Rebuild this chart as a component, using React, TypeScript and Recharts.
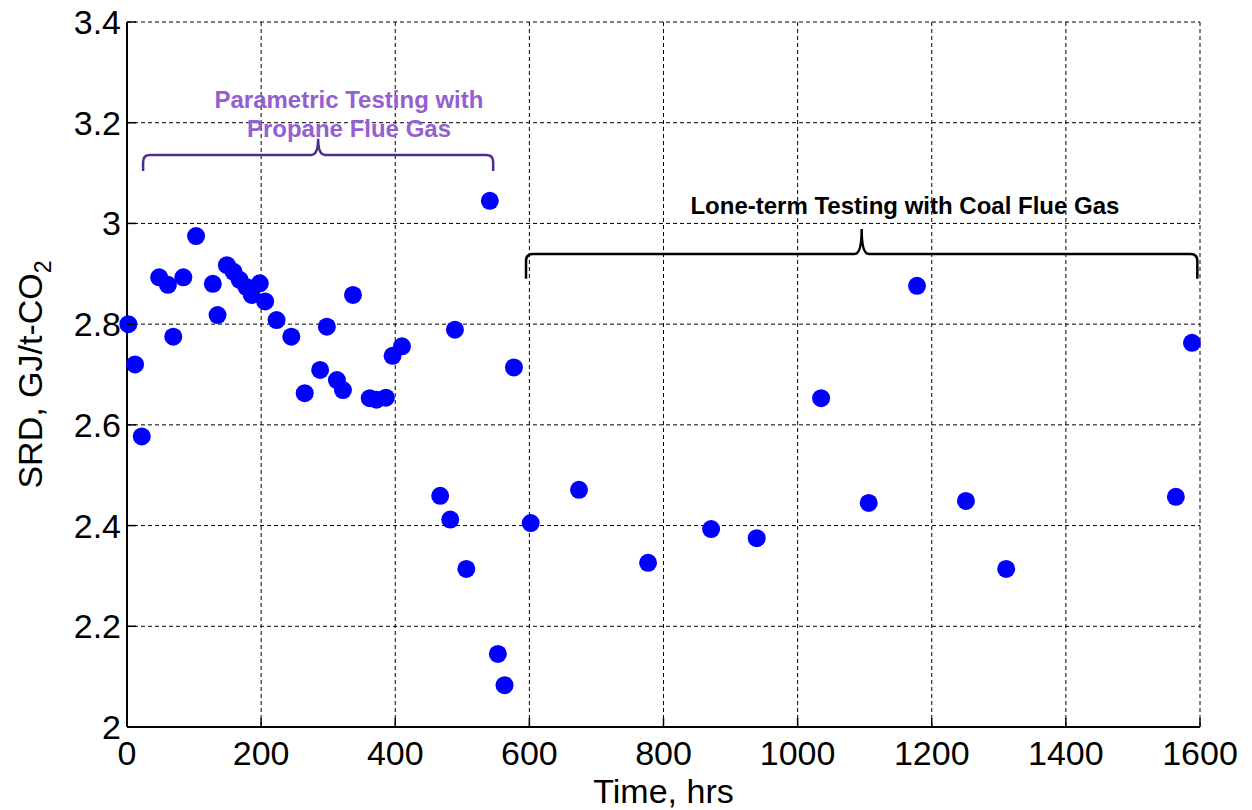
import React from 'react';
import {
  ScatterChart,
  Scatter,
  XAxis,
  YAxis,
  CartesianGrid,
  ReferenceArea,
  ReferenceDot,
} from 'recharts';

// measured points, time (hrs) vs SRD (GJ/t-CO2)
const timeHrs = [
  2, 12, 22, 48, 61, 69, 84, 103, 128, 135, 149, 159, 168, 178, 186, 198, 206, 223, 245, 265,
  288, 298, 313, 322, 337, 362, 372, 386, 396, 410, 467, 482, 489, 506, 541, 553, 563, 577, 602, 674,
  777, 871, 939, 1035, 1106, 1178, 1251, 1311, 1564, 1588,
];
const srdValues = [
  2.8, 2.72, 2.577, 2.893, 2.878, 2.775, 2.893, 2.975, 2.88, 2.818, 2.917, 2.904, 2.888, 2.874, 2.858, 2.881, 2.845, 2.808, 2.775, 2.663,
  2.709, 2.795, 2.689, 2.669, 2.858, 2.653, 2.65, 2.654, 2.737, 2.756, 2.459, 2.412, 2.789, 2.314, 3.045, 2.145, 2.083, 2.714, 2.405, 2.471,
  2.326, 2.393, 2.375, 2.653, 2.445, 2.876, 2.449, 2.314, 2.457, 2.763,
];

const xTicks = [0, 200, 400, 600, 800, 1000, 1200, 1400, 1600];
const yTicks = [2, 2.2, 2.4, 2.6, 2.8, 3, 3.2, 3.4];

// annotation anchors in data units
const propaneBrace = { x1: 24, x2: 546, yLow: 3.104, yHigh: 3.168 };
const coalBrace = { x1: 595, x2: 1596, yLow: 2.89, yHigh: 2.989 };
const propaneLabel = { x: 331, lines: ['Parametric Testing with', 'Propane Flue Gas'], y: [3.23, 3.172] };
const coalLabel = { x: 1160, text: 'Lone-term Testing with Coal Flue Gas', y: 3.019 };

const data = timeHrs.map((t, i) => ({ time: t, srd: srdValues[i] }));

const FONT = '"Liberation Sans", Arial, sans-serif';
const TICK_LEN = 9;

const fmt = (v: number) => String(Math.round(v * 10) / 10);

const BottomTick = (props: any) => {
  const { x, y, payload } = props;
  return (
    <g>
      <line x1={x} x2={x} y1={y} y2={y - TICK_LEN} stroke="#000" strokeWidth={1.5} />
      <text x={x} y={y + 38} textAnchor="middle" fontSize={34} fontFamily={FONT} fill="#000">
        {payload.value}
      </text>
    </g>
  );
};

const TopTick = (props: any) => {
  const { x, y } = props;
  return <line x1={x} x2={x} y1={y} y2={y + TICK_LEN} stroke="#000" strokeWidth={1.5} />;
};

const LeftTick = (props: any) => {
  const { x, y, payload } = props;
  return (
    <g>
      <line x1={x} x2={x + TICK_LEN} y1={y} y2={y} stroke="#000" strokeWidth={1.5} />
      <text x={x - 6} y={y + 12} textAnchor="end" fontSize={34} fontFamily={FONT} fill="#000">
        {fmt(payload.value)}
      </text>
    </g>
  );
};

const RightTick = (props: any) => {
  const { x, y } = props;
  return <line x1={x} x2={x - TICK_LEN} y1={y} y2={y} stroke="#000" strokeWidth={1.5} />;
};

const Brace = (color: string) => (props: any) => {
  const { x, y, width, height } = props;
  const midY = y + height / 2;
  const cx = x + width / 2;
  const r = 7;
  const d = [
    `M${x},${y + height}`,
    `L${x},${midY + r}`,
    `Q${x},${midY} ${x + r},${midY}`,
    `L${cx - r},${midY}`,
    `Q${cx},${midY} ${cx},${y}`,
    `Q${cx},${midY} ${cx + r},${midY}`,
    `L${x + width - r},${midY}`,
    `Q${x + width},${midY} ${x + width},${midY + r}`,
    `L${x + width},${y + height}`,
  ].join(' ');
  return <path d={d} fill="none" stroke={color} strokeWidth={2.5} />;
};

const labelText = (text: string, color: string) => (props: any) => (
  <text
    x={props.cx}
    y={props.cy}
    textAnchor="middle"
    fontSize={24}
    fontWeight="bold"
    fontFamily={FONT}
    fill={color}
  >
    {text}
  </text>
);

const YLabel = (props: any) => {
  const vb = props.viewBox;
  const cx = vb.x + 42;
  const cy = vb.y + vb.height / 2;
  return (
    <text
      x={cx}
      y={cy}
      transform={`rotate(-90, ${cx}, ${cy})`}
      textAnchor="middle"
      fontSize={34}
      fontFamily={FONT}
      fill="#000"
    >
      SRD, GJ/t-CO<tspan dy={9} fontSize={23}>2</tspan>
    </text>
  );
};

const XLabel = (props: any) => {
  const vb = props.viewBox;
  return (
    <text
      x={vb.x + vb.width / 2}
      y={vb.y + 76}
      textAnchor="middle"
      fontSize={34}
      fontFamily={FONT}
      fill="#000"
    >
      Time, hrs
    </text>
  );
};

export default function App() {
  return (
    <div style={{ position: 'absolute', left: 0, top: 0, width: 1252, height: 810, background: '#fff' }}>
      <ScatterChart width={1252} height={810} margin={{ top: 22, right: 52, bottom: 0, left: 0 }}>
        <CartesianGrid stroke="#000" strokeDasharray="4 3" strokeWidth={1} />
        <XAxis
          type="number"
          dataKey="time"
          domain={[0, 1600]}
          ticks={xTicks}
          height={83}
          tickSize={0}
          tickMargin={0}
          tickLine={false}
          axisLine={{ stroke: '#000', strokeWidth: 2 }}
          tick={<BottomTick />}
          label={<XLabel />}
        />
        <XAxis
          xAxisId="top"
          orientation="top"
          type="number"
          domain={[0, 1600]}
          ticks={xTicks}
          height={0}
          tickSize={0}
          tickMargin={0}
          tickLine={false}
          axisLine={{ stroke: '#000', strokeWidth: 2 }}
          tick={<TopTick />}
        />
        <YAxis
          type="number"
          dataKey="srd"
          domain={[2, 3.4]}
          ticks={yTicks}
          width={127}
          tickSize={0}
          tickMargin={0}
          tickLine={false}
          axisLine={{ stroke: '#000', strokeWidth: 2 }}
          tick={<LeftTick />}
          label={<YLabel />}
        />
        <YAxis
          yAxisId="right"
          orientation="right"
          type="number"
          domain={[2, 3.4]}
          ticks={yTicks}
          width={0}
          tickSize={0}
          tickMargin={0}
          tickLine={false}
          axisLine={{ stroke: '#000', strokeWidth: 2 }}
          tick={<RightTick />}
        />
        <ReferenceArea
          x1={propaneBrace.x1}
          x2={propaneBrace.x2}
          y1={propaneBrace.yLow}
          y2={propaneBrace.yHigh}
          shape={Brace('#4f2d8f')}
        />
        <ReferenceArea
          x1={coalBrace.x1}
          x2={coalBrace.x2}
          y1={coalBrace.yLow}
          y2={coalBrace.yHigh}
          shape={Brace('#000')}
        />
        <ReferenceDot x={propaneLabel.x} y={propaneLabel.y[0]} r={0} shape={labelText(propaneLabel.lines[0], '#9460d0')} />
        <ReferenceDot x={propaneLabel.x} y={propaneLabel.y[1]} r={0} shape={labelText(propaneLabel.lines[1], '#9460d0')} />
        <ReferenceDot x={coalLabel.x} y={coalLabel.y} r={0} shape={labelText(coalLabel.text, '#000')} />
        <Scatter
          data={data}
          isAnimationActive={false}
          shape={(p: any) => <circle cx={p.cx} cy={p.cy} r={9} fill="#0000ff" />}
        />
      </ScatterChart>
    </div>
  );
}
